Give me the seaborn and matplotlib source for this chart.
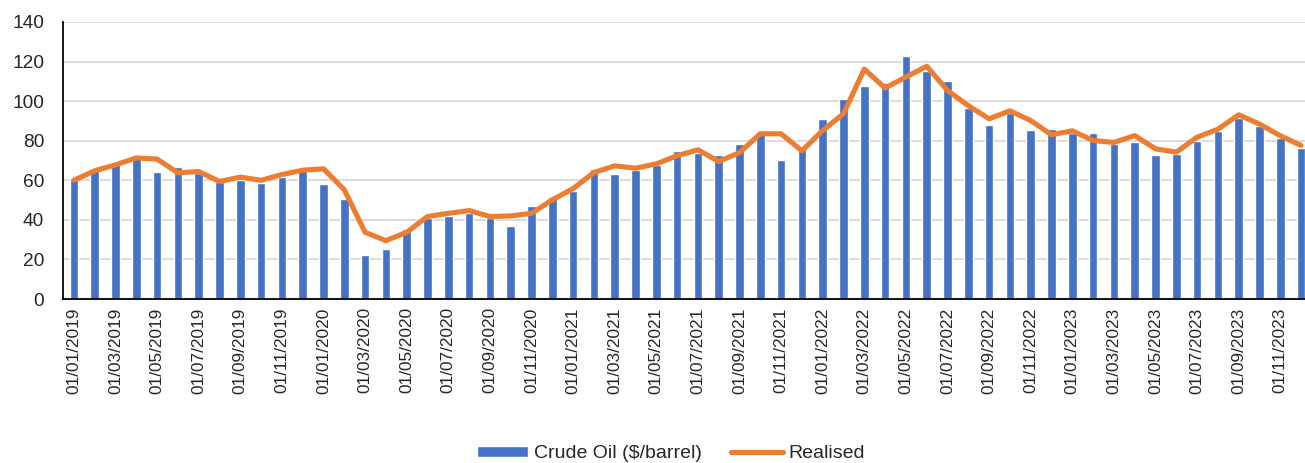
import numpy as np
import pandas as pd
import matplotlib
matplotlib.use("Agg")
import matplotlib.pyplot as plt
import seaborn as sns
from matplotlib.patches import Patch
from matplotlib.lines import Line2D

# monthly categories, Jan 2019 - Dec 2023
months = list(pd.date_range("2019-01-01", periods=60, freq="MS").strftime("%d/%m/%Y"))

# crude oil price ($/barrel)
crude = [61.4, 65.6, 68.6, 72.7, 64.4, 66.5, 63.6, 58.9, 60.2, 58.5, 61.9, 64.8,
         58.2, 50.4, 22.4, 25.1, 35.3, 40.8, 42.0, 43.3, 40.8, 37.1, 47.2, 51.4,
         54.6, 65.8, 63.4, 65.4, 67.5, 74.9, 74.0, 72.9, 78.4, 84.3, 70.3, 76.2,
         91.1, 101.0, 107.9, 109.3, 122.8, 115.4, 110.0, 96.5, 87.9, 93.9, 85.3, 86.0,
         83.8, 83.8, 78.4, 79.6, 72.7, 73.4, 80.1, 84.7, 91.4, 87.2, 81.3, 76.2]

# realised price
realised = [60.0, 64.8, 67.8, 71.3, 70.7, 63.8, 64.4, 59.4, 61.6, 60.0, 62.9, 65.1,
            65.8, 55.2, 33.7, 29.5, 33.7, 41.7, 43.3, 44.7, 41.7, 42.0, 43.3, 50.1,
            55.8, 63.9, 67.3, 66.1, 68.3, 72.4, 75.4, 69.5, 74.0, 83.5, 83.5, 74.9,
            85.2, 93.6, 116.2, 106.6, 112.2, 117.6, 105.4, 97.7, 91.1, 95.1, 90.2, 83.0,
            85.0, 80.1, 79.1, 82.6, 75.9, 74.2, 81.8, 85.8, 93.1, 88.4, 82.5, 77.6]

blue = "#4472C4"
orange = "#ED7D31"

df = pd.DataFrame({"month": months, "crude": crude, "realised": realised})

sns.set_style("white")
plt.rcParams["font.family"] = ["Liberation Sans", "DejaVu Sans"]

fig = plt.figure(figsize=(13.05, 4.63), dpi=100)
ax = fig.add_axes([63.5 / 1305, 1 - 299 / 463, 1248 / 1305, (299 - 22) / 463])

sns.barplot(data=df, x="month", y="crude", color=blue, width=0.42,
            saturation=1, ax=ax)
sns.lineplot(x=np.arange(len(df)), y=df["realised"], color=orange, linewidth=3.7,
             ax=ax, solid_joinstyle="round", solid_capstyle="round")

ax.set_xlim(-0.5, len(df) - 0.5)
ax.set_ylim(0, 140)
ax.set_yticks(range(0, 141, 20))
ax.yaxis.grid(True, color="#d9d9d9", linewidth=1.3)
ax.set_axisbelow(True)

for s in ["top", "right"]:
    ax.spines[s].set_visible(False)
for s in ["left", "bottom"]:
    ax.spines[s].set_color("black")
    ax.spines[s].set_linewidth(1.3)

# labels every 2 months, tick marks between categories
ax.set_xticks(range(0, len(df), 2))
ax.set_xticklabels(months[::2], rotation=90)
ax.set_xticks(np.arange(-0.5, len(df), 2), minor=True)
ax.tick_params(axis="x", which="major", length=0, pad=6, labelsize=12.4)
ax.tick_params(axis="x", which="minor", length=6, width=1.3, color="black")
ax.tick_params(axis="y", length=0, pad=14, labelsize=13.8)
ax.set_xlabel("")
ax.set_ylabel("")

handles = [Patch(facecolor=blue, label="Crude Oil ($/barrel)"),
           Line2D([0], [0], color=orange, linewidth=3.7, solid_capstyle="round",
                  label="Realised")]
fig.legend(handles=handles, loc="center", bbox_to_anchor=(671 / 1305, 1 - 454 / 463),
           ncol=2, frameon=False, fontsize=14, handlelength=2.65, handleheight=0.55,
           handletextpad=0.3, columnspacing=1.5)

fig.savefig("out.png", dpi=100)
